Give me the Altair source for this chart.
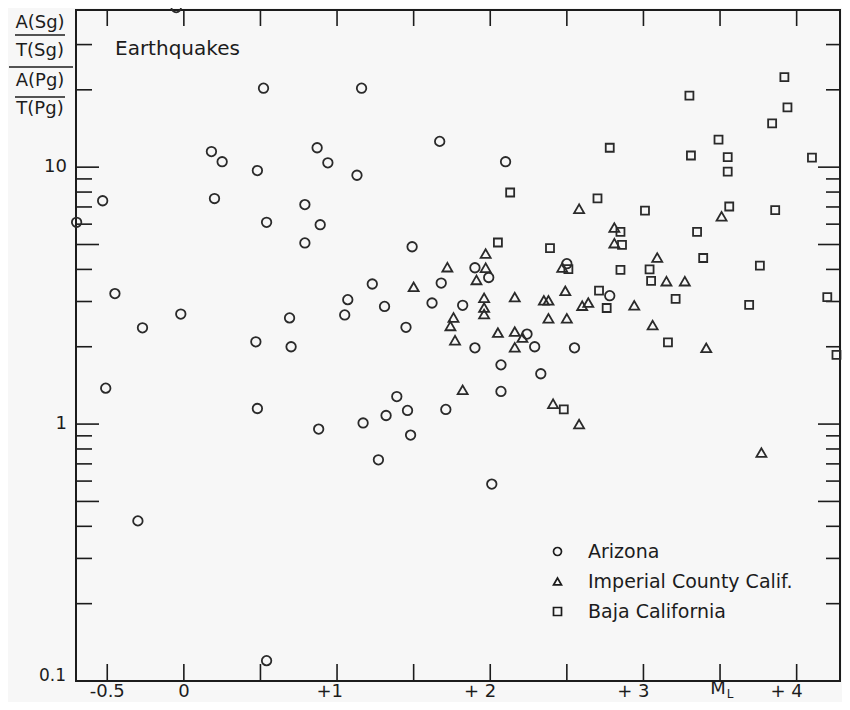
import altair as alt
import pandas as pd

# ---------------- data ----------------
regions = ["Arizona", "Imperial County Calif.", "Baja California"]
shapes = ["circle", "triangle-up", "square"]

az_ml = [-0.05, 0.52, 0.18, 0.25, 0.48, 0.87, 0.94, -0.53, 0.20, -0.70,
         0.54, 0.79, 0.89, 0.79, -0.45, -0.02, -0.27, 0.69, 0.47, 1.16,
         1.13, 1.67, 2.10, 1.49, 1.90, 1.99, 2.50, 1.23, 1.68, 1.07,
         1.05, 1.31, 1.62, 1.82, 1.45, 2.24, 1.90, 2.29, 2.55, 2.07,
         2.33, 2.07, 2.78, 0.70, -0.51, 0.48, 0.88, 1.39, 1.32, 1.46,
         1.71, 1.17, 1.48, 1.27, 2.01, -0.30, 0.54]
az_ratio = [41.8, 20.3, 11.5, 10.5, 9.7, 11.9, 10.4, 7.4, 7.55, 6.1,
            6.1, 7.15, 5.97, 5.07, 3.22, 2.68, 2.37, 2.59, 2.09, 20.3,
            9.3, 12.6, 10.5, 4.9, 4.06, 3.72, 4.21, 3.51, 3.54, 3.05,
            2.66, 2.87, 2.96, 2.90, 2.38, 2.24, 1.98, 2.00, 1.98, 1.70,
            1.57, 1.34, 3.16, 2.00, 1.38, 1.15, 0.956, 1.28, 1.08, 1.13,
            1.14, 1.01, 0.906, 0.726, 0.584, 0.420, 0.120]

imp_ml = [2.58, 1.97, 1.72, 1.97, 1.91, 2.47, 2.49, 1.50, 1.96, 1.96,
          1.96, 2.16, 2.35, 2.38, 2.60, 2.64, 2.38, 2.50, 1.76, 1.74,
          2.05, 2.16, 2.21, 1.77, 2.16, 1.82, 2.41, 2.58, 3.51, 2.81,
          2.81, 3.09, 3.15, 3.27, 2.94, 3.06, 3.41, 3.77]
imp_ratio = [6.89, 4.61, 4.08, 4.06, 3.64, 4.07, 3.30, 3.42, 3.10, 2.84,
             2.68, 3.12, 3.03, 3.03, 2.89, 2.97, 2.58, 2.58, 2.60, 2.41,
             2.27, 2.29, 2.17, 2.12, 1.99, 1.36, 1.20, 1.00, 6.44, 5.82,
             5.06, 4.45, 3.60, 3.60, 2.90, 2.43, 1.98, 0.775]

baja_ml = [3.92, 3.30, 3.94, 3.84, 3.49, 3.31, 3.55, 3.55, 4.10, 2.78,
           2.13, 2.70, 3.01, 3.56, 3.86, 3.35, 2.85, 2.86, 2.39, 2.05,
           3.39, 3.76, 2.85, 3.04, 3.05, 2.51, 2.71, 2.76, 3.21, 4.20,
           3.69, 3.16, 4.26, 2.48]
baja_ratio = [22.4, 19.0, 17.1, 14.8, 12.8, 11.1, 10.95, 9.6, 10.9, 11.9,
              7.97, 7.56, 6.77, 7.03, 6.81, 5.60, 5.60, 4.98, 4.84, 5.09,
              4.43, 4.14, 3.98, 4.00, 3.61, 4.01, 3.31, 2.83, 3.07, 3.12,
              2.91, 2.08, 1.86, 1.14]

# axis ticks and labels
y_major_ticks = [0.5, 1, 5, 10]
y_minor_ticks = [0.2, 0.3, 0.4, 0.6, 0.7, 0.8, 0.9, 2, 3, 4, 6, 7, 8, 9, 20, 30]
x_ticks = [-0.5, 0, 0.5, 1, 1.5, 2, 2.5, 3, 3.5, 4]
y_label_values = [10, 1]
y_label_texts = ["10", "1"]
x_plain_values = [-0.5, 0]
x_plain_texts = ["-0.5", "0"]
x_plus_values = [1, 2, 3, 4]
x_plus_texts = ["+1", "+ 2", "+ 3", "+ 4"]

# ---------------- build ----------------
W, H = 764, 671
FONT = "DejaVu Sans"
INK = "#1c1c1c"
PT = "#2a2a2a"

xs = alt.Scale(domain=[-0.704, 4.283], nice=False, zero=False)
ys = alt.Scale(type="log", domain=[0.1, 40.9], nice=False)
shape_scale = alt.Scale(domain=regions, range=shapes)
legend = alt.Legend(title=None, orient="none", legendX=472, legendY=532,
                    labelFont=FONT, labelFontSize=19, labelColor=INK, labelLimit=400,
                    symbolSize=64, symbolStrokeWidth=1.7,
                    symbolStrokeColor=INK, symbolFillColor="transparent",
                    rowPadding=10, labelOffset=21, padding=0)


def pts(ml, ratio, region, size):
    d = pd.DataFrame({"ml": ml, "ratio": ratio, "region": [region] * len(ml)})
    return alt.Chart(d).mark_point(filled=False, strokeWidth=1.8, color=PT,
                                   opacity=1, size=size).encode(
        x=alt.X("ml:Q", scale=xs, axis=None),
        y=alt.Y("ratio:Q", scale=ys, axis=None),
        shape=alt.Shape("region:N", scale=shape_scale, legend=legend),
    )


point_layers = [
    pts(az_ml, az_ratio, regions[0], 90),
    pts(imp_ml, imp_ratio, regions[1], 100),
    pts(baja_ml, baja_ratio, regions[2], 64),
]

one = pd.DataFrame({"k": [0]})


def ticks_y(vals, x0, x1):
    return alt.Chart(pd.DataFrame({"v": vals})).mark_rule(color=INK, strokeWidth=1.6).encode(
        y=alt.Y("v:Q", scale=ys, axis=None), x=alt.value(x0), x2=alt.value(x1))


def ticks_x(vals, y0, y1):
    return alt.Chart(pd.DataFrame({"v": vals})).mark_rule(color=INK, strokeWidth=1.6).encode(
        x=alt.X("v:Q", scale=xs, axis=None), y=alt.value(y0), y2=alt.value(y1))


tick_layers = [
    ticks_y(y_major_ticks, 0, 23), ticks_y(y_minor_ticks, 0, 16),
    ticks_y(y_major_ticks, W - 22, W), ticks_y(y_minor_ticks, W - 14, W),
    ticks_x(x_ticks, 0, 16), ticks_x(x_ticks, H - 17, H),
]

ylab = alt.Chart(pd.DataFrame({"v": y_label_values, "t": y_label_texts})).mark_text(
    align="right", baseline="middle", font=FONT, fontSize=18, color=INK).encode(
    y=alt.Y("v:Q", scale=ys, axis=None), x=alt.value(-9), text="t:N")
ylab01 = alt.Chart(pd.DataFrame({"v": [0.1], "t": ["0.1"]})).mark_text(
    align="right", baseline="middle", font=FONT, fontSize=17, color=INK, dy=-5).encode(
    y=alt.Y("v:Q", scale=ys, axis=None), x=alt.value(-10), text="t:N")

XL_Y = H + 11
xlab1 = alt.Chart(pd.DataFrame({"v": x_plain_values, "t": x_plain_texts})).mark_text(
    align="center", baseline="middle", font=FONT, fontSize=18, color=INK).encode(
    x=alt.X("v:Q", scale=xs, axis=None), y=alt.value(XL_Y), text="t:N")
xlab2 = alt.Chart(pd.DataFrame({"v": x_plus_values, "t": x_plus_texts})).mark_text(
    align="right", baseline="middle", font=FONT, fontSize=18, color=INK, dx=6).encode(
    x=alt.X("v:Q", scale=xs, axis=None), y=alt.value(XL_Y), text="t:N")
ml_m = alt.Chart(pd.DataFrame({"v": [3.5], "t": ["M"]})).mark_text(
    align="center", baseline="middle", font=FONT, fontSize=18, color=INK, dx=-2).encode(
    x=alt.X("v:Q", scale=xs, axis=None), y=alt.value(H + 8), text="t:N")
ml_l = alt.Chart(pd.DataFrame({"v": [3.5], "t": ["L"]})).mark_text(
    align="center", baseline="middle", font=FONT, fontSize=12, color=INK, dx=10).encode(
    x=alt.X("v:Q", scale=xs, axis=None), y=alt.value(H + 13), text="t:N")


def txt(s, x, y, size=18, align="center"):
    return alt.Chart(one).mark_text(align=align, baseline="alphabetic", font=FONT,
                                    fontSize=size, color=INK).encode(
        x=alt.value(x), y=alt.value(y), text=alt.value(s))


def hline(x0, x1, y):
    return alt.Chart(one).mark_rule(color=INK, strokeWidth=1.6).encode(
        x=alt.value(x0), x2=alt.value(x1), y=alt.value(y))


title_layers = [
    txt("A(Sg)", -36, 18), hline(-61, -11, 25),
    txt("T(Sg)", -36, 46), hline(-67, -3, 57),
    txt("A(Pg)", -36, 76), hline(-61, -11, 87),
    txt("T(Pg)", -36, 104),
    txt("Earthquakes", 39, 45, size=20, align="left"),
]

chart = alt.layer(
    *tick_layers, *point_layers, ylab, ylab01, xlab1, xlab2, ml_m, ml_l, *title_layers
).properties(
    width=W, height=H, autosize="none",
    padding={"left": 68, "top": 2, "right": 2, "bottom": 21},
    background="#f7f7f7",
).configure_view(stroke=INK, strokeWidth=2)

chart.save("out.html", embed_options={"renderer": "svg", "actions": False})
